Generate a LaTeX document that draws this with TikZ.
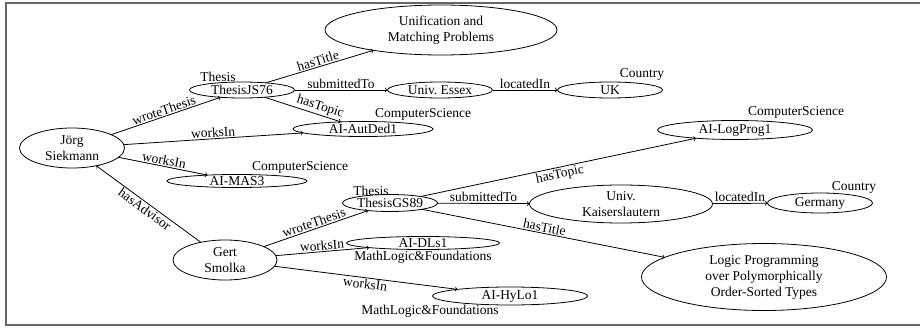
\documentclass[tikz,border=0pt]{standalone}
\usepackage{fontspec}
\setmainfont{Liberation Serif}
\usetikzlibrary{shapes.geometric}
\begin{document}
\begin{tikzpicture}
	[x=1pt,y=-1pt,line width=0.8pt,
	every node/.style={inner sep=0,outer sep=0,font=\fontsize{13.5}{16}\selectfont},
	ent/.style={draw,ellipse,inner xsep=0,inner ysep=-1.5,minimum width=105,minimum height=16,align=center},
	rel/.style={sloped,above,inner sep=1.5}]
	\useasboundingbox (0,0) rectangle (920,329);
	\draw [gray!80!black,line width=1.3pt] (920,3) -- (6,3) -- (6,325) -- (920,325);
	\node (js) [ent,minimum width=105,minimum height=40] at (72,148) {Jörg\\Siekmann};
	\node (js76) [ent] at (242,90) {ThesisJS76};
	\node (unif) [ent,minimum width=232,minimum height=50] at (441,30) {Unification and\\Matching Problems};
	\node (essex) [ent] at (440,90) {Univ.\ Essex};
	\node (uk) [ent] at (610,90) {UK};
	\node (autded) [ent,minimum width=140,minimum height=15] at (363,129) {AI-AutDed1};
	\node (mas) [ent,minimum width=140,minimum height=13] at (237,181) {AI-MAS3};
	\node (logprog) [ent,minimum width=155,minimum height=19] at (735,130) {AI-LogProg1};
	\node (gs) [ent,minimum width=104,minimum height=40] at (225,260) {Gert\\Smolka};
	\node (gs89) [ent,minimum width=95,minimum height=17] at (390,203) {ThesisGS89};
	\node (kl) [ent,minimum width=183,minimum height=38] at (621,204) {Univ.\\Kaiserslautern};
	\node (germany) [ent,minimum height=20] at (820,203) {Germany};
	\node (lp) [ent,minimum width=245,minimum height=67] at (764,277) {Logic Programming\\over Polymorphically\\Order-Sorted Types};
	\node (dls) [ent,minimum width=153,minimum height=13] at (423,243) {AI-DLs1};
	\node (hylo) [ent,minimum width=155,minimum height=18] at (510,296) {AI-HyLo1};
	\node (js76type) at (218,77) {Thesis};
	\node (uktype) at (642,74) {Country};
	\node (autdedtype) at (423,114) {ComputerScience};
	\node (mastype) at (300,167) {ComputerScience};
	\node (logprogtype) at (796,112) {ComputerScience};
	\node (gs89type) at (371,191) {Thesis};
	\node (germanytype) at (854,187) {Country};
	\node (dlstype) at (423,257) {MathLogic\&Foundations};
	\node (hylotype) at (430,311) {MathLogic\&Foundations};
	\draw [->] (js) -- node [rel] {wroteThesis} (js76);
	\draw [->] (js) -- node [rel] {worksIn} (autded);
	\draw [->] (js) -- node [rel] {worksIn} (mas);
	\draw [->] (gs) -- node [rel,below] {hasAdvisor} (js);
	\draw [->] (js76) -- node [rel] {hasTitle} (unif);
	\draw [->] (js76) -- node [rel] {submittedTo} (essex);
	\draw [->] (js76) -- node [rel,pos=0.7] {hasTopic} (autded);
	\draw [->] (essex) -- node [rel] {locatedIn} (uk);
	\draw [->] (gs) -- node [rel] {wroteThesis} (gs89);
	\draw [->] (gs) -- node [rel] {worksIn} (dls);
	\draw [->] (gs) -- node [rel,below] {worksIn} (hylo);
	\draw [->] (gs89) -- node [rel,below] {hasTopic} (logprog);
	\draw [->] (gs89) -- node [rel] {submittedTo} (kl);
	\draw [->] (gs89) -- node [rel] {hasTitle} (lp);
	\draw [->] (kl) -- node [rel] {locatedIn} (germany);
\end{tikzpicture}
\end{document}
